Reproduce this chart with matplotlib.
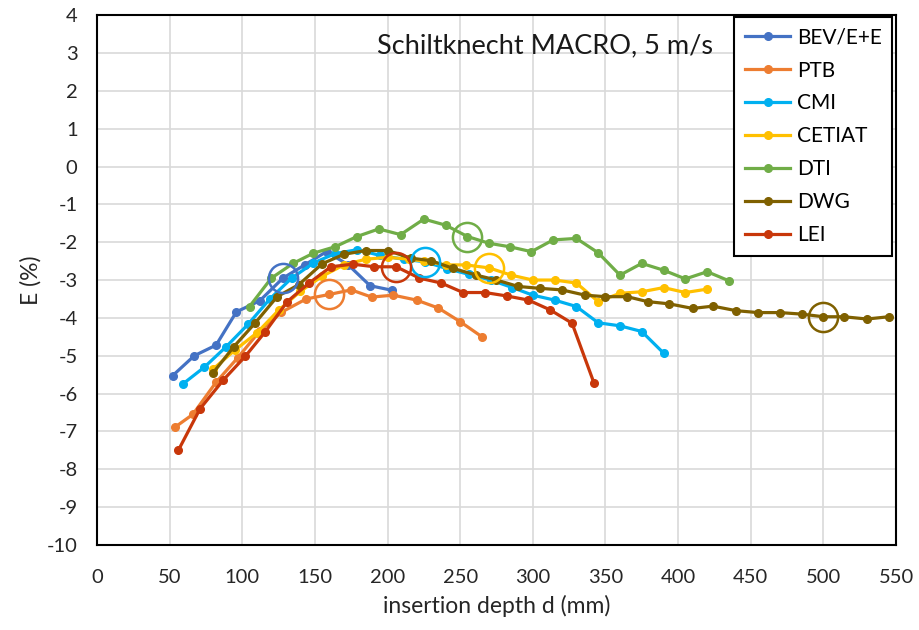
import matplotlib.pyplot as plt

plt.rcParams['font.family'] = ['Lato', 'DejaVu Sans']
plt.rcParams['axes.unicode_minus'] = False

# deviation E (%) vs insertion depth d (mm), one series per lab
bev_d = [52, 67, 82, 96, 112, 128, 143, 158, 173, 188, 203]
bev_e = [-5.53, -5.0, -4.72, -3.84, -3.55, -2.95, -2.6, -2.25, -2.6, -3.15, -3.27]

ptb_d = [54, 66, 82, 97, 112, 127, 144, 160, 175, 189, 204, 220, 235, 250, 265]
ptb_e = [-6.88, -6.55, -5.7, -5.05, -4.35, -3.85, -3.5, -3.38, -3.26, -3.45, -3.4, -3.53, -3.74, -4.1, -4.5]

cmi_d = [59, 74, 89, 104, 119, 134, 149, 164, 179, 195, 211, 226, 241, 256, 271, 286, 300,
         315, 330, 345, 360, 375, 390]
cmi_e = [-5.75, -5.3, -4.76, -4.17, -3.5, -2.95, -2.55, -2.3, -2.2, -2.35, -2.45, -2.52, -2.7,
         -2.85, -3.0, -3.2, -3.4, -3.53, -3.7, -4.13, -4.21, -4.36, -4.93]

cetiat_d = [80, 95, 110, 125, 140, 155, 170, 185, 200, 215, 225, 240, 254, 270, 285, 300,
            315, 330, 345, 360, 375, 390, 405, 420]
cetiat_e = [-5.35, -4.85, -4.4, -3.8, -3.3, -2.9, -2.6, -2.45, -2.4, -2.45, -2.5, -2.6, -2.6,
            -2.68, -2.87, -3.0, -3.0, -3.08, -3.57, -3.35, -3.31, -3.2, -3.33, -3.24]

dti_d = [105, 120, 135, 149, 164, 179, 194, 209, 225, 240, 255, 270, 284, 299, 314, 330,
         345, 360, 375, 390, 405, 420, 435]
dti_e = [-3.7, -2.95, -2.56, -2.29, -2.12, -1.85, -1.65, -1.8, -1.39, -1.55, -1.85, -2.03,
         -2.12, -2.25, -1.94, -1.9, -2.28, -2.87, -2.56, -2.74, -2.97, -2.78, -3.02]

dwg_d = [80, 94, 109, 124, 139, 155, 170, 185, 200, 216, 230, 245, 261, 275, 290, 305, 320,
         336, 350, 365, 379, 394, 410, 424, 440, 455, 470, 485, 500, 514, 530, 545]
dwg_e = [-5.45, -4.77, -4.13, -3.44, -3.12, -2.57, -2.32, -2.22, -2.22, -2.42, -2.49, -2.69,
         -2.87, -3.0, -3.17, -3.22, -3.26, -3.4, -3.44, -3.44, -3.57, -3.63, -3.75, -3.69,
         -3.81, -3.86, -3.86, -3.9, -3.97, -3.97, -4.03, -3.97]

lei_d = [56, 71, 87, 102, 116, 131, 146, 161, 176, 191, 206, 222, 237, 252, 267, 282, 297,
         312, 327, 342]
lei_e = [-7.5, -6.4, -5.64, -5.02, -4.36, -3.57, -3.08, -2.65, -2.58, -2.65, -2.65, -2.95,
         -3.08, -3.33, -3.33, -3.42, -3.53, -3.79, -4.14, -5.71]

names = ['BEV/E+E', 'PTB', 'CMI', 'CETIAT', 'DTI', 'DWG', 'LEI']
colors = ['#4472C4', '#ED7D31', '#00B0F0', '#FFC000', '#70AD47', '#7F6000', '#C8370A']
depths = [bev_d, ptb_d, cmi_d, cetiat_d, dti_d, dwg_d, lei_d]
errors = [bev_e, ptb_e, cmi_e, cetiat_e, dti_e, dwg_e, lei_e]

# reference depth chosen for each lab (ringed points)
ring_d = [128, 160, 226, 270, 255, 500, 206]
ring_e = [-2.95, -3.38, -2.52, -2.68, -1.85, -3.97, -2.65]

fig = plt.figure(figsize=(9.19, 6.3), dpi=100)
ax = fig.add_axes([0.1055, 0.135, 0.8695, 0.841])

for d, e, c, n in zip(depths, errors, colors, names):
    ax.plot(d, e, color=c, lw=2.3, marker='o', ms=5.5, label=n, zorder=3)

for rd, re, c in zip(ring_d, ring_e, colors):
    ax.plot([rd], [re], ls='none', marker='o', ms=21, mfc='none', mec=c, mew=1.8, zorder=4)

ax.set_xlim(0, 550)
ax.set_ylim(-10, 4)
ax.set_xticks(range(0, 551, 50))
ax.set_yticks(range(-10, 5))
ax.grid(True, color='#D9D9D9', lw=1.2, zorder=0)
ax.set_axisbelow(True)
for s in ax.spines.values():
    s.set_color('black')
    s.set_linewidth(1.5)
ax.tick_params(length=0, labelsize=14.5, colors='#262626')
ax.tick_params(axis='x', pad=17)
ax.tick_params(axis='y', pad=14)
ax.set_xlabel('insertion depth d (mm)', fontsize=16.5, color='#262626', labelpad=7)
ax.set_ylabel('E (%)', fontsize=16.5, color='#262626', labelpad=4)

ax.text(193, 3.2, 'Schiltknecht MACRO, 5 m/s', fontsize=19.5, color='#1a1a1a', va='center')

leg = ax.legend(loc='upper right', bbox_to_anchor=(0.995, 0.996), borderaxespad=0,
                fontsize=15, handlelength=2.2, handletextpad=0.3, labelspacing=0.62,
                fancybox=False, framealpha=1, borderpad=0.5)
leg.get_frame().set_edgecolor('black')
leg.get_frame().set_linewidth(1.5)
for h in leg.get_lines():
    h.set_markersize(5.5)

fig.savefig('out.png', dpi=100)
